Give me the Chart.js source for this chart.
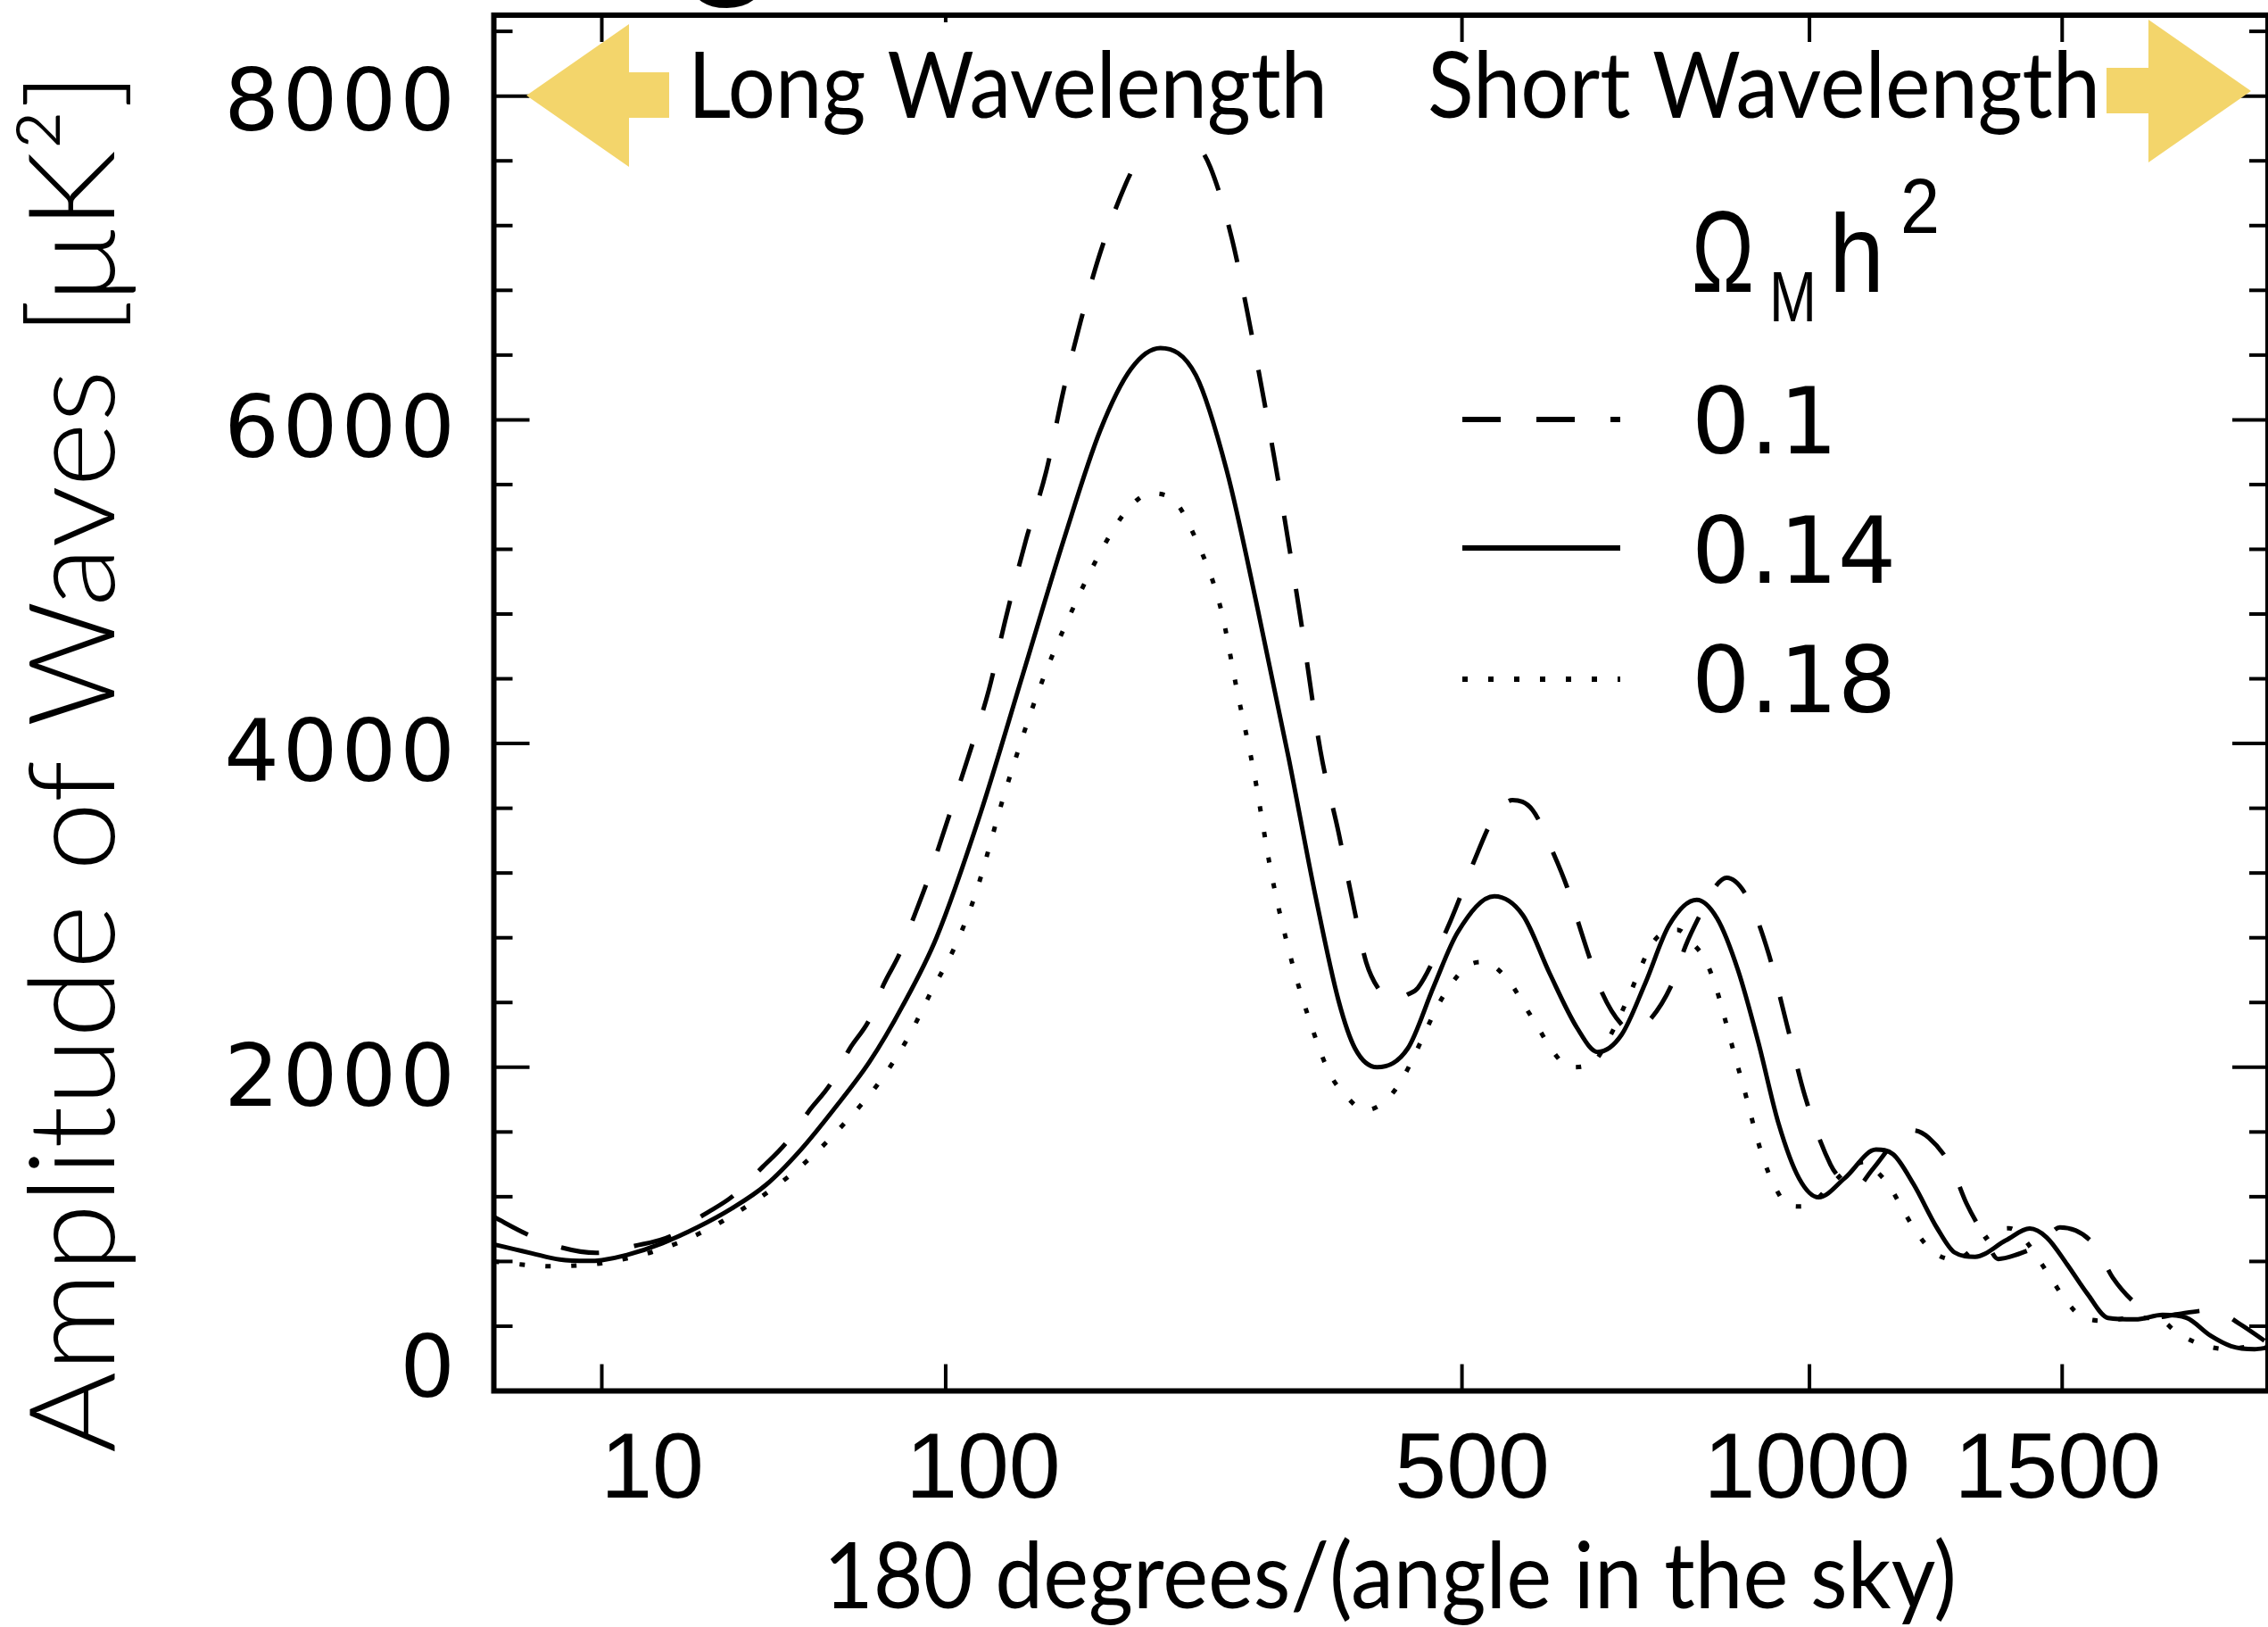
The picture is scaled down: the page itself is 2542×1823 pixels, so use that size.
<!DOCTYPE html>
<html>
<head>
<meta charset="utf-8">
<title>Amplitude of Waves vs 180 degrees/(angle in the sky)</title>
<script src="https://cdn.jsdelivr.net/npm/chart.js@4.4.1/dist/chart.umd.min.js"></script>
<style>
  html, body { margin: 0; padding: 0; background: #fff; }
  canvas { display: block; }
</style>
</head>
<body>
<canvas id="cmbChart" width="2542" height="1823"></canvas>
<script>
// values: multipole l and amplitude in uK^2
const seriesLabels = ['0.1', '0.14', '0.18'];

const ell01 = [2, 3.7, 6.2, 9.4, 14, 19.4, 25, 31, 38, 44, 50.5, 57, 63, 70, 75, 81, 87, 92, 98, 110,
  120, 128, 139, 150, 160, 170, 182, 198, 210, 222, 232, 245, 259, 276, 289, 312, 334, 353, 370, 383,
  397, 410, 423, 440, 451, 487, 518, 535, 560, 585, 612, 630, 645, 660, 677, 704, 720, 745, 778, 798,
  820, 845, 862, 896, 930, 961, 992, 1037, 1058, 1082, 1113, 1155, 1190, 1221, 1265, 1296, 1331, 1362, 1396, 1454,
  1495, 1573, 1615, 1671, 1720, 1759, 1860, 1925, 2000];
const amp01 = [1075, 968, 885, 853, 896, 957, 1084, 1200, 1382, 1530, 1730, 1898, 2110, 2298, 2510, 2700, 2943, 3142, 3404, 3910,
  4332, 4754, 5261, 5683, 6190, 6612, 7034, 7450, 7660, 7780, 7810, 7740, 7560, 7120, 6650, 5740, 4800, 3950, 3450, 3045,
  2650, 2480, 2410, 2450, 2491, 2905, 3324, 3520, 3650, 3590, 3320, 3109, 2888, 2675, 2459, 2265, 2226, 2295, 2519, 2750,
  2939, 3120, 3170, 3045, 2706, 2265, 1824, 1399, 1300, 1255, 1367, 1537, 1610, 1564, 1389, 1161, 968, 815, 837, 911,
  1010, 902, 700, 534, 455, 470, 500, 416, 295];

const ell014 = [2, 3, 4, 6, 8.5, 10, 13, 18, 24, 31, 39, 48, 58, 70, 82, 96, 116, 137, 160, 182,
  202, 222, 248, 272, 297, 324, 348, 370, 386, 408, 440, 468, 495, 538, 573, 607, 643, 671, 704, 738,
  773, 815, 847, 880, 913, 947, 982, 1016, 1063, 1120, 1152, 1191, 1238, 1272, 1314, 1378, 1429, 1466, 1511, 1557,
  1604, 1668, 1733, 1792, 1852, 1904, 1965, 2000];
const amp014 = [905, 875, 850, 812, 803, 808, 840, 912, 1010, 1128, 1275, 1487, 1740, 2035, 2373, 2800, 3572, 4417, 5261, 5936,
  6316, 6443, 6274, 5683, 4839, 3910, 3066, 2411, 2116, 2000, 2116, 2497, 2833, 3056, 2939, 2579, 2243, 2094, 2200, 2519,
  2877, 3034, 2918, 2601, 2158, 1652, 1313, 1196, 1316, 1491, 1463, 1279, 1003, 856, 829, 930, 1003, 948, 782, 599,
  451, 442, 470, 451, 341, 277, 258, 268];

const ell018 = [2, 3, 5.3, 7.5, 10.1, 16.8, 24.8, 39, 50, 61.5, 73, 84, 93.5, 104, 113, 128, 146, 165.5, 186.5, 200,
  215, 230, 248, 267, 280, 294, 309, 327, 342, 361, 376, 396, 418, 435, 448, 460, 472, 487, 507, 522,
  535, 558, 575, 592, 610, 634, 665, 685, 716, 731, 746, 758, 785, 810, 828, 844, 855, 866, 877, 888,
  899, 910, 922, 938, 965, 985, 1006, 1039, 1073, 1099, 1120, 1146, 1172, 1198, 1231, 1275, 1321, 1363, 1385, 1414,
  1451, 1481, 1507, 1549, 1604, 1652, 1716, 1774, 1830, 1895, 1965, 2000];
const amp018 = [800, 785, 770, 775, 790, 863, 979, 1222, 1423, 1655, 1898, 2173, 2458, 2743, 3048, 3699, 4334, 4839, 5261, 5450,
  5545, 5515, 5261, 4839, 4334, 3826, 3192, 2646, 2306, 1968, 1831, 1735, 1799, 1936, 2084, 2232, 2373, 2508, 2627, 2650,
  2633, 2517, 2380, 2247, 2105, 2000, 2031, 2168, 2454, 2612, 2749, 2812, 2850, 2760, 2665, 2506, 2358, 2200, 2042, 1894,
  1735, 1577, 1430, 1282, 1145, 1140, 1165, 1279, 1380, 1415, 1360, 1261, 1113, 975, 856, 810, 911, 994, 1005, 948,
  801, 672, 562, 451, 433, 451, 451, 350, 286, 258, 277, 270];

const xTickValues = [10, 100, 500, 1000, 1500];
const yTickValues = [0, 2000, 4000, 6000, 8000];

// the x axis of the figure is stretched like l^0.4
const EXPONENT = 0.4;

class PowerScale extends Chart.Scale {
  determineDataLimits() {
    const { min, max } = this.getMinMax(true);
    this.min = min;
    this.max = max;
  }
  buildTicks() {
    return xTickValues.map(v => ({ value: v }));
  }
  configure() {
    super.configure();
    this._powStart = Math.pow(this.min, EXPONENT);
    this._powRange = Math.pow(this.max, EXPONENT) - this._powStart;
  }
  getPixelForValue(value) {
    return this.getPixelForDecimal((Math.pow(value, EXPONENT) - this._powStart) / this._powRange);
  }
  getValueForPixel(pixel) {
    const dec = this.getDecimalForPixel(pixel);
    return Math.pow(this._powStart + dec * this._powRange, 1 / EXPONENT);
  }
}
PowerScale.id = 'power';
PowerScale.defaults = {};
Chart.register(PowerScale);

const toPoints = (ls, vs) => ls.map((l, i) => ({ x: l, y: vs[i] }));

function fitText(ctx, text, x, y, font, width, align) {
  ctx.save();
  ctx.font = font;
  const sx = width / ctx.measureText(text).width;
  ctx.translate(x, y);
  ctx.scale(sx, 1);
  ctx.textAlign = align || 'left';
  ctx.textBaseline = 'alphabetic';
  ctx.fillText(text, 0, 0);
  ctx.restore();
}

function seg(ctx, x1, y1, x2, y2) {
  ctx.beginPath();
  ctx.moveTo(x1, y1);
  ctx.lineTo(x2, y2);
  ctx.stroke();
}

function poly(ctx, pts) {
  ctx.beginPath();
  pts.forEach(([px, py], i) => (i ? ctx.lineTo(px, py) : ctx.moveTo(px, py)));
  ctx.closePath();
  ctx.fill();
}

// label nudges, as on the slide
const yLabelShift = [6, 43.5, 42, 41.5, 38.5];
const xLabelShift = [56.5, 42, 11.5, -3, -5];
const legendLineY = [470, 614, 761];
const legendTextY = [508, 653, 798];

const slideDecor = {
  id: 'slideDecor',
  afterDatasetsDraw(chart) {
    const { ctx, chartArea: a, scales: { x, y } } = chart;
    ctx.save();
    ctx.strokeStyle = '#000';
    ctx.fillStyle = '#000';

    // inward ticks on all four sides
    ctx.lineWidth = 4;
    for (let v = 0; v <= 8400; v += 400) {
      const py = y.getPixelForValue(v);
      const len = v % 2000 === 0 ? 40 : 21;
      seg(ctx, a.left, py, a.left + len, py);
      seg(ctx, a.right, py, a.right - len, py);
    }
    xTickValues.forEach(v => {
      const px = x.getPixelForValue(v);
      seg(ctx, px, a.bottom, px, a.bottom - 30);
      seg(ctx, px, a.top, px, a.top + 30);
    });
    ctx.lineWidth = 6;
    ctx.strokeRect(a.left, a.top, a.right - a.left, a.bottom - a.top);

    // slide title peeking in from above
    ctx.font = '170px Lato';
    ctx.textAlign = 'left';
    ctx.fillText('g', 772, -22);

    // white box behind the "Long Wavelength" label
    ctx.fillStyle = '#fff';
    ctx.fillRect(760, 25, 740, 147);
    ctx.fillStyle = '#000';

    // tick labels
    ctx.font = '97px "DejaVu Sans"';
    ctx.letterSpacing = '4px';
    ctx.textAlign = 'right';
    ctx.textBaseline = 'alphabetic';
    yTickValues.forEach((v, i) => ctx.fillText(String(v), 514, y.getPixelForValue(v) + yLabelShift[i]));
    ctx.letterSpacing = '0px';

    ctx.font = '104px "Liberation Sans"';
    ctx.textAlign = 'center';
    xTickValues.forEach((v, i) => ctx.fillText(String(v), x.getPixelForValue(v) + xLabelShift[i], 1678));

    // axis titles
    fitText(ctx, '180 degrees/(angle in the sky)', 923, 1802, '103px Lato', 1270);
    ctx.save();
    ctx.translate(128, 854.5);
    ctx.rotate(-Math.PI / 2);
    fitText(ctx, 'Amplitude of Waves [μK²]', 0, 0, '300 135px Lato', 1547, 'center');
    ctx.restore();

    // wavelength arrows
    ctx.fillStyle = '#f3d56b';
    poly(ctx, [[590, 107], [705, 27], [705, 81], [750, 81], [750, 132], [705, 132], [705, 187]]);
    poly(ctx, [[2361, 76], [2408, 76], [2408, 22], [2523, 102], [2408, 182], [2408, 127], [2361, 127]]);
    ctx.fillStyle = '#000';
    fitText(ctx, 'Long Wavelength', 771, 132, '103px Lato', 717);
    fitText(ctx, 'Short Wavelength', 1600, 132, '103px Lato', 754);

    // legend
    fitText(ctx, 'Ω', 1896, 327, '130px "Liberation Sans"', 70);
    fitText(ctx, 'M', 1983, 360, '80px "Liberation Sans"', 53);
    fitText(ctx, 'h', 2050, 327, '125px "Liberation Sans"', 62);
    fitText(ctx, '2', 2130, 261, '88px "Liberation Sans"', 44);

    chart.data.datasets.forEach((ds, i) => {
      ctx.save();
      ctx.lineWidth = ds.borderWidth + 1;
      ctx.setLineDash(ds.borderDash || []);
      seg(ctx, 1639, legendLineY[i], 1816, legendLineY[i]);
      ctx.restore();
      ctx.font = '103px "DejaVu Sans"';
      ctx.textAlign = 'left';
      ctx.fillText(ds.label, 1896, legendTextY[i]);
    });

    ctx.restore();
  }
};

const ctx = document.getElementById('cmbChart').getContext('2d');
new Chart(ctx, {
  type: 'line',
  data: {
    datasets: [
      { label: seriesLabels[0], data: toPoints(ell01, amp01), borderColor: '#000', borderWidth: 5, borderDash: [43, 40] },
      { label: seriesLabels[1], data: toPoints(ell014, amp014), borderColor: '#000', borderWidth: 5 },
      { label: seriesLabels[2], data: toPoints(ell018, amp018), borderColor: '#000', borderWidth: 5, borderDash: [6, 23] }
    ]
  },
  options: {
    responsive: false,
    animation: false,
    devicePixelRatio: 1,
    layout: { padding: { left: 553.5, top: 17, right: 0, bottom: 264.5 } },
    elements: {
      point: { radius: 0 },
      line: { fill: false, cubicInterpolationMode: 'monotone' }
    },
    plugins: { legend: { display: false }, tooltip: { enabled: false } },
    scales: {
      x: { type: 'power', min: 2, max: 2000, display: false },
      y: { type: 'linear', min: 0, max: 8500, display: false }
    }
  },
  plugins: [slideDecor]
});
</script>
</body>
</html>
